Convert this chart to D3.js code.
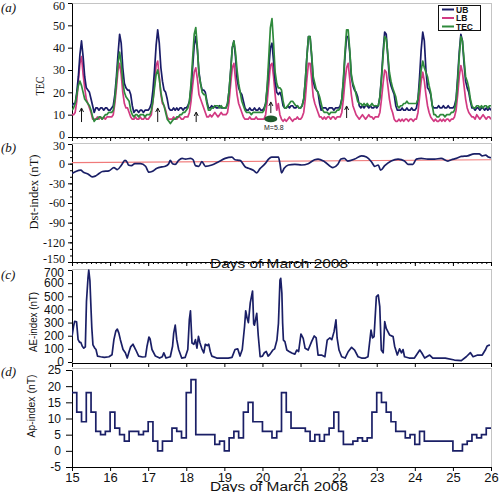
<!DOCTYPE html>
<html><head><meta charset="utf-8">
<script src="https://cdn.jsdelivr.net/npm/d3@7"></script>
<style>body{margin:0;background:#fff}</style>
</head><body>
<svg id="chart" width="500" height="492"></svg>
<script>
// ---------- DATA ----------
const dayTicks = [15,16,17,18,19,20,21,22,23,24,25,26];
const tecTicks = [0,10,20,30,40,50,60];
const dstTicks = [30,0,-30,-60,-90,-120,-150];
const aeTicks = [0,100,200,300,400,500,600,700];
const apTicks = [-5,0,5,10,15,20,25];
const seriesNames = ["UB","LB","TEC"];

// hourly values starting 15 March 00 UT
const ubValues = [
14,15,15,20,27,37,43,36,27,22,21,20,17,14,11,13,13,12,13,13,12,13,13,12,
12,13,14,19,27,37,46,42,31,24,22,21,21,19,14,11,12,12,11,12,12,11,12,12,
12,13,15,21,30,41,48,42,31,25,21,20,17,13,12,12,13,12,13,12,13,13,12,13,
13,14,16,22,31,41,45,39,29,24,21,21,20,16,13,13,14,13,14,13,13,14,13,13,
13,13,15,21,30,40,43,36,26,22,20,19,16,13,12,12,13,12,12,13,12,12,13,12,
12,13,15,22,31,40,42,34,25,20,19,20,18,14,13,13,14,13,14,14,13,13,14,13,
13,14,17,25,36,45,45,36,25,22,21,20,15,12,13,13,13,12,13,13,13,12,13,13,
13,14,17,25,36,45,45,38,27,23,21,20,18,14,13,14,13,14,14,13,14,13,13,14,
13,14,18,27,38,47,46,36,26,23,21,19,14,12,12,12,13,12,12,13,12,12,13,12,
12,13,17,27,39,47,43,30,22,21,19,14,13,13,13,14,13,13,14,13,13,14,13,13,
13,14,17,27,38,46,43,33,25,22,20,16,13,13,12,13,13,12,13,13,12,13,12,13,
12];
const lbValues = [
10,10,11,16,25,33,36,28,22,17,15,13,11,8,8,8,9,8,9,8,9,8,9,9,
9,9,10,15,22,30,33,28,20,15,13,13,11,9,8,8,9,8,8,9,8,8,9,8,
8,9,10,16,24,32,34,27,19,15,14,12,9,8,8,8,9,8,8,9,9,8,8,9,
9,9,11,16,23,29,31,26,19,17,15,13,11,9,9,10,9,10,11,10,9,10,11,10,
10,10,11,16,24,31,33,26,19,15,13,11,9,8,8,8,9,8,8,8,9,8,8,8,
8,8,10,16,24,32,33,27,19,12,15,10,8,7,8,7,8,9,8,7,8,8,9,8,
8,9,11,17,26,33,33,26,18,15,13,11,9,9,8,9,8,9,9,8,9,9,8,9,
9,9,11,17,25,31,33,26,19,14,12,10,9,8,9,10,9,8,9,10,9,9,8,9,
9,9,11,17,24,30,29,23,17,13,11,8,7,7,8,7,8,7,8,8,7,8,8,7,
8,8,11,18,25,29,25,19,14,11,9,8,7,8,7,7,8,7,8,7,8,8,7,8,
8,9,12,19,27,32,29,23,17,13,11,10,9,9,8,10,9,8,9,10,9,8,9,9,
8];
const tecValues = [
12,13,15,19,23,25,23,20,17,16,15,14,12,9,7,8,8,9,9,8,9,10,10,11,
11,11,12,17,25,33,38,33,25,20,18,17,16,12,10,9,10,10,9,10,10,10,9,10,
10,10,12,16,22,28,30,26,20,16,14,11,8,7,6,7,8,8,9,9,10,10,11,11,
12,13,16,24,35,46,49,40,28,24,20,19,19,15,12,12,13,13,14,14,14,13,14,13,
13,13,15,21,30,40,43,38,30,24,20,16,14,12,11,11,11,10,11,11,11,11,11,11,
11,12,15,23,36,49,53,42,29,24,22,22,21,16,13,13,14,15,16,16,15,14,14,13,
13,14,17,25,36,45,45,37,27,24,21,20,18,15,12,11,11,11,10,11,11,11,11,12,
12,13,17,26,38,48,48,39,28,24,22,19,16,15,15,14,15,14,15,14,14,15,14,14,
14,14,18,26,36,45,44,37,29,25,22,20,18,14,13,14,14,15,15,16,15,15,15,15,
15,15,17,23,30,34,31,29,27,23,20,14,10,10,9,9,10,10,10,9,10,10,10,11,
11,12,16,25,36,45,43,35,27,25,22,17,14,13,13,14,14,13,14,13,14,14,13,14,
14];

// earthquake-related arrows (day, top TEC, bottom TEC)
const arrowDays = [15.25, 17.25, 18.26, 20.22, 22.21];
const arrowTops = [13, 13, 11.2, 15.7, 13.9];
const arrowBottoms = [6.7, 6.7, 6.7, 10.7, 8.5];
const quakeDay = 20.22, quakeTec = 8.1, quakeLabel = "M=5.8";

// Dst (day, nT)
const dstDays = [15.0,15.1,15.23,15.3,15.43,15.53,15.61,15.71,15.8,15.97,16.1,16.19,16.3,16.39,16.45,16.48,16.56,16.65,16.8,16.93,17.02,17.1,17.23,17.36,17.45,17.54,17.58,17.64,17.71,17.8,17.89,17.98,18.11,18.18,18.24,18.33,18.41,18.5,18.67,18.85,19.02,19.2,19.28,19.41,19.55,19.63,19.76,19.85,19.93,20.07,20.16,20.24,20.42,20.46,20.5,20.57,20.68,20.85,21.03,21.2,21.37,21.46,21.63,21.85,21.98,22.06,22.15,22.24,22.42,22.6,22.73,22.86,22.95,23.04,23.1,23.21,23.38,23.56,23.73,23.82,23.95,24.04,24.17,24.34,24.52,24.69,24.87,24.96,25.09,25.22,25.39,25.56,25.69,25.77,25.86,25.93,26.0];
const dstValues = [-15,-12,-10,-13,-16,-20,-19,-15,-12,-11,-6,-9,-2,5,2,-2,-3,0,0,-4,-13,-12,-7,-5,-4,0,5,0,-1,5,8,7,8,6,-3,-4,3,-4,-2,3,8,10,6,5,-5,-7,-10,-14,-8,0,7,10,10,0,-14,-7,-2,-1,-2,0,6,7,3,-6,-1,7,8,4,7,12,10,3,-4,-2,-10,-3,4,7,4,-1,-1,7,8,7,7,8,4,6,8,11,12,15,15,12,13,10,9];
const dstRefDays = [15, 26];
const dstRefValues = [1.5, 6];

// AE (day, nT)
const aeDays = [15.0,15.04,15.07,15.12,15.16,15.2,15.23,15.27,15.31,15.35,15.38,15.42,15.44,15.47,15.5,15.52,15.55,15.6,15.63,15.67,15.75,15.85,15.97,16.05,16.1,16.15,16.19,16.23,16.27,16.34,16.4,16.45,16.5,16.54,16.6,16.67,16.75,16.85,16.93,16.97,17.02,17.05,17.1,17.19,17.3,17.37,17.41,17.47,17.58,17.64,17.67,17.71,17.75,17.8,17.88,17.97,18.04,18.08,18.11,18.15,18.2,18.24,18.28,18.32,18.36,18.41,18.46,18.5,18.55,18.59,18.63,18.67,18.8,18.95,19.1,19.2,19.28,19.35,19.41,19.47,19.53,19.56,19.6,19.63,19.68,19.74,19.77,19.79,19.85,19.89,19.94,20.0,20.05,20.1,20.15,20.2,20.27,20.32,20.38,20.42,20.46,20.48,20.51,20.53,20.55,20.59,20.64,20.7,20.77,20.85,20.9,20.95,21.01,21.07,21.12,21.2,21.29,21.36,21.41,21.46,21.55,21.64,21.7,21.77,21.82,21.88,21.93,21.96,22.01,22.08,22.17,22.25,22.34,22.42,22.51,22.6,22.7,22.77,22.85,22.89,22.93,22.99,23.04,23.08,23.12,23.17,23.21,23.25,23.34,23.43,23.47,23.54,23.6,23.65,23.69,23.73,23.85,23.99,24.13,24.18,24.26,24.39,24.47,24.61,24.8,25.04,25.22,25.35,25.46,25.53,25.65,25.77,25.85,25.9,25.97];
const aeValues = [195,270,310,305,170,150,150,120,105,115,460,640,700,620,400,260,130,105,95,45,40,35,40,55,170,235,250,220,170,95,70,30,80,115,135,95,45,38,40,120,190,175,95,45,30,40,70,30,40,120,220,280,170,95,30,35,95,320,390,145,135,170,105,195,145,100,70,135,125,135,80,45,30,30,30,35,95,100,45,95,270,390,330,300,450,540,290,280,370,200,40,45,70,80,45,60,90,100,167,294,623,637,523,294,167,155,91,80,68,60,91,80,213,180,104,91,155,198,183,53,53,40,167,183,170,231,320,183,91,40,30,78,112,91,40,30,30,40,243,183,193,497,510,421,91,70,307,256,205,193,120,53,100,70,95,40,30,30,91,70,30,53,30,30,30,15,10,40,71,40,53,53,91,122,130];

// Ap (3-hourly, starting 15 March 00 UT)
const apValues = [
18,12,9,18,12,6,5,6,
12,7,5,3,6,6,5,6,
9,3,0,3,3,7,6,4,
18,22,5,5,5,5,2,3,
0,4,6,4,12,15,9,9,
6,6,4,6,18,12,7,7,
7,6,3,5,3,5,7,12,
6,2,2,3,4,3,4,12,
18,15,12,9,6,6,4,5,
2,6,3,3,3,3,3,3,
0,0,2,3,5,4,5,7,
7];

// ---------- STYLE ----------
const colUB = "#1a1c68", colLB = "#d23a82", colTEC = "#2f8a3c";
const navy = "#1a1f66";
const serif = "'Liberation Serif','Times New Roman',serif";
const sans = "'Liberation Sans',Arial,sans-serif";
const frameCol = "#c4c4c4";

const svg = d3.select("#chart");
const X0 = 72, X1 = 491;
const x = d3.scaleLinear().domain([15, 26]).range([X0, X1]);

const panels = {
  a: {top: 3, bottom: 137, y: d3.scaleLinear().domain([0, 60]).range([137, 3])},
  b: {top: 143, bottom: 262, y: d3.scaleLinear().domain([-150, 30]).range([262, 144])},
  c: {top: 269, bottom: 363, y: d3.scaleLinear().domain([0, 700]).range([362, 270])},
  d: {top: 368, bottom: 467, y: d3.scaleLinear().domain([-5, 25]).range([467, 370])}
};

// frames (gray top/right)
Object.entries(panels).forEach(([k, p]) => {
  svg.append("line").attr("x1", X0).attr("x2", X1).attr("y1", p.top + 0.5).attr("y2", p.top + 0.5)
    .attr("stroke", frameCol).attr("stroke-width", 1);
  svg.append("line").attr("x1", X1 + 0.5).attr("x2", X1 + 0.5).attr("y1", p.top).attr("y2", p.bottom)
    .attr("stroke", frameCol).attr("stroke-width", 1);
  svg.append("clipPath").attr("id", "clip" + k).append("rect")
    .attr("x", X0).attr("y", p.top).attr("width", X1 - X0).attr("height", p.bottom - p.top);
});

function styleAxis(g, font, size) {
  g.selectAll("path.domain").attr("stroke", "#000").attr("stroke-width", 1);
  g.selectAll(".tick line").attr("stroke", "#000");
  g.selectAll(".tick text").attr("font-family", font).attr("font-size", size).attr("fill", "#111");
}

const minorDays = d3.range(15, 26.0001, 0.125);

// ---- X axes ----
function xAxis(p, withMinor, labels) {
  if (withMinor) {
    const gm = svg.append("g").attr("transform", `translate(0,${p.bottom})`)
      .call(d3.axisBottom(x).tickValues(minorDays).tickSize(2).tickFormat(""));
    gm.select("path.domain").remove();
    gm.selectAll(".tick line").attr("stroke", "#000");
  }
  const g = svg.append("g").attr("transform", `translate(0,${p.bottom})`)
    .call(d3.axisBottom(x).tickValues(dayTicks).tickSizeInner(4).tickSizeOuter(0)
      .tickPadding(2).tickFormat(labels ? d3.format("d") : ""));
  styleAxis(g, sans, "13px");
  return g;
}
xAxis(panels.a, true, false);
xAxis(panels.b, true, false);
xAxis(panels.c, false, false);
xAxis(panels.d, false, true);

// ---- Y axes ----
const ga = svg.append("g").attr("transform", `translate(${X0},0)`)
  .call(d3.axisLeft(panels.a.y).tickValues(tecTicks).tickSizeInner(4).tickSizeOuter(0).tickPadding(3));
styleAxis(ga, serif, "12px");
ga.selectAll(".tick text").filter(d => d === 0).attr("dy", "0.1em");
ga.selectAll(".tick text").filter(d => d === 60).attr("dy", "0.5em");

const gbm = svg.append("g").attr("transform", `translate(${X0},0)`)
  .call(d3.axisLeft(panels.b.y).tickValues(d3.range(-150, 31, 10)).tickSize(2).tickFormat(""));
gbm.select("path.domain").remove();
gbm.selectAll(".tick line").attr("stroke", "#000");
const gb = svg.append("g").attr("transform", `translate(${X0},0)`)
  .call(d3.axisLeft(panels.b.y).tickValues(dstTicks).tickSizeInner(4).tickSizeOuter(0).tickPadding(3)
    .tickFormat(d => String(d)));
styleAxis(gb, serif, "12px");
gb.selectAll(".tick text").filter(d => d === 30).attr("dy", "0.45em");
gb.selectAll(".tick text").filter(d => d === -150).attr("dy", "0.05em");

const gc = svg.append("g").attr("transform", `translate(${X0},0)`)
  .call(d3.axisLeft(panels.c.y).tickValues(aeTicks).tickSizeInner(4).tickSizeOuter(0).tickPadding(4));
styleAxis(gc, sans, "12px");
gc.selectAll(".tick text").filter(d => d === 700).attr("dy", "0.5em");

const gd = svg.append("g").attr("transform", `translate(${X0},0)`)
  .call(d3.axisLeft(panels.d.y).tickValues(apTicks).tickSizeInner(6).tickSizeOuter(0).tickPadding(5)
    .tickFormat(d => String(d)));
styleAxis(gd, sans, "12px");

// ---- Panel (a) TEC ----
const hourT = i => 15 + i / 24;
const lineA = d3.line().x((d, i) => x(hourT(i))).y(d => panels.a.y(d));
const gA = svg.append("g").attr("clip-path", "url(#clipa)");
[[lbValues, colLB], [ubValues, colUB], [tecValues, colTEC]].forEach(([vals, c]) => {
  gA.append("path").datum(vals).attr("d", lineA).attr("fill", "none")
    .attr("stroke", c).attr("stroke-width", 1.7).attr("stroke-linejoin", "round");
});

// arrows
arrowDays.forEach((d, i) => {
  const xx = x(d), yt = panels.a.y(arrowTops[i]), yb = panels.a.y(arrowBottoms[i]);
  svg.append("line").attr("x1", xx).attr("x2", xx).attr("y1", yt + 1).attr("y2", yb)
    .attr("stroke", "#111").attr("stroke-width", 1);
  svg.append("path").attr("d", `M${xx - 2},${yt + 4} L${xx},${yt} L${xx + 2},${yt + 4}`)
    .attr("fill", "none").attr("stroke", "#111").attr("stroke-width", 1);
});
svg.append("ellipse").attr("cx", x(quakeDay)).attr("cy", panels.a.y(quakeTec))
  .attr("rx", 6.5).attr("ry", 3.3).attr("fill", "#1e5a2c");
svg.append("text").attr("x", x(quakeDay) + 3).attr("y", 130)
  .attr("text-anchor", "middle").attr("font-family", sans).attr("font-size", "7px")
  .attr("fill", "#222").text(quakeLabel);

// legend
const lg = svg.append("g");
lg.append("rect").attr("x", 438.5).attr("y", 5.5).attr("width", 42).attr("height", 25)
  .attr("fill", "#fff").attr("stroke", "#111").attr("stroke-width", 1);
[colUB, colLB, colTEC].forEach((c, i) => {
  const yy = 9.5 + i * 8.5;
  lg.append("line").attr("x1", 442).attr("x2", 454).attr("y1", yy).attr("y2", yy)
    .attr("stroke", c).attr("stroke-width", 2);
  lg.append("text").attr("x", 456).attr("y", yy + 3).attr("font-family", sans)
    .attr("font-size", "8.5px").attr("font-weight", "bold").attr("fill", "#111").text(seriesNames[i]);
});

// ---- Panel (b) Dst ----
const gB = svg.append("g").attr("clip-path", "url(#clipb)");
gB.append("path").datum(dstRefDays.map((d, i) => [d, dstRefValues[i]]))
  .attr("d", d3.line().x(d => x(d[0])).y(d => panels.b.y(d[1])))
  .attr("fill", "none").attr("stroke", "#f07a7a").attr("stroke-width", 1.2);
gB.append("path").datum(dstDays.map((d, i) => [d, dstValues[i]]))
  .attr("d", d3.line().curve(d3.curveMonotoneX).x(d => x(d[0])).y(d => panels.b.y(d[1])))
  .attr("fill", "none").attr("stroke", navy).attr("stroke-width", 1.7);

// ---- Panel (c) AE ----
const gC = svg.append("g").attr("clip-path", "url(#clipc)");
gC.append("path").datum(aeDays.map((d, i) => [d, aeValues[i]]))
  .attr("d", d3.line().x(d => x(d[0])).y(d => panels.c.y(d[1])))
  .attr("fill", "none").attr("stroke", navy).attr("stroke-width", 1.7).attr("stroke-linejoin", "round");

// ---- Panel (d) Ap ----
const gD = svg.append("g").attr("clip-path", "url(#clipd)");
gD.append("path").datum(apValues)
  .attr("d", d3.line().curve(d3.curveStepAfter).x((d, i) => x(15 + i / 8)).y(d => panels.d.y(d)))
  .attr("fill", "none").attr("stroke", navy).attr("stroke-width", 1.7);

// ---- Titles ----
function yTitle(txt, cx, cy, font, size, len) {
  const t = svg.append("text").attr("transform", `translate(${cx},${cy}) rotate(-90)`)
    .attr("text-anchor", "middle").attr("dy", "0.35em")
    .attr("font-family", font).attr("font-size", size).attr("fill", "#111").text(txt);
  if (len) t.attr("textLength", len).attr("lengthAdjust", "spacingAndGlyphs");
}
yTitle("TEC", 39, 86, serif, "13px", 19);
yTitle("Dst-index (nT)", 33, 192, serif, "13px", 75);
yTitle("AE-index (nT)", 33, 322, sans, "11px", 60);
yTitle("Ap-index (nT)", 31, 406, sans, "11px", 63);

[["(a)", 12], ["(b)", 152], ["(c)", 279], ["(d)", 376]].forEach(([t, yy]) => {
  svg.append("text").attr("x", 1).attr("y", yy).attr("font-family", serif)
    .attr("font-size", "13px").attr("font-style", "italic").attr("fill", "#111").text(t);
});

[268, 491].forEach(yy => {
  svg.append("text").attr("x", 279).attr("y", yy).attr("text-anchor", "middle")
    .attr("font-family", sans).attr("font-size", "12px").attr("fill", "#111")
    .attr("textLength", 138).attr("lengthAdjust", "spacingAndGlyphs").text("Days of March 2008");
});
</script>
</body></html>
